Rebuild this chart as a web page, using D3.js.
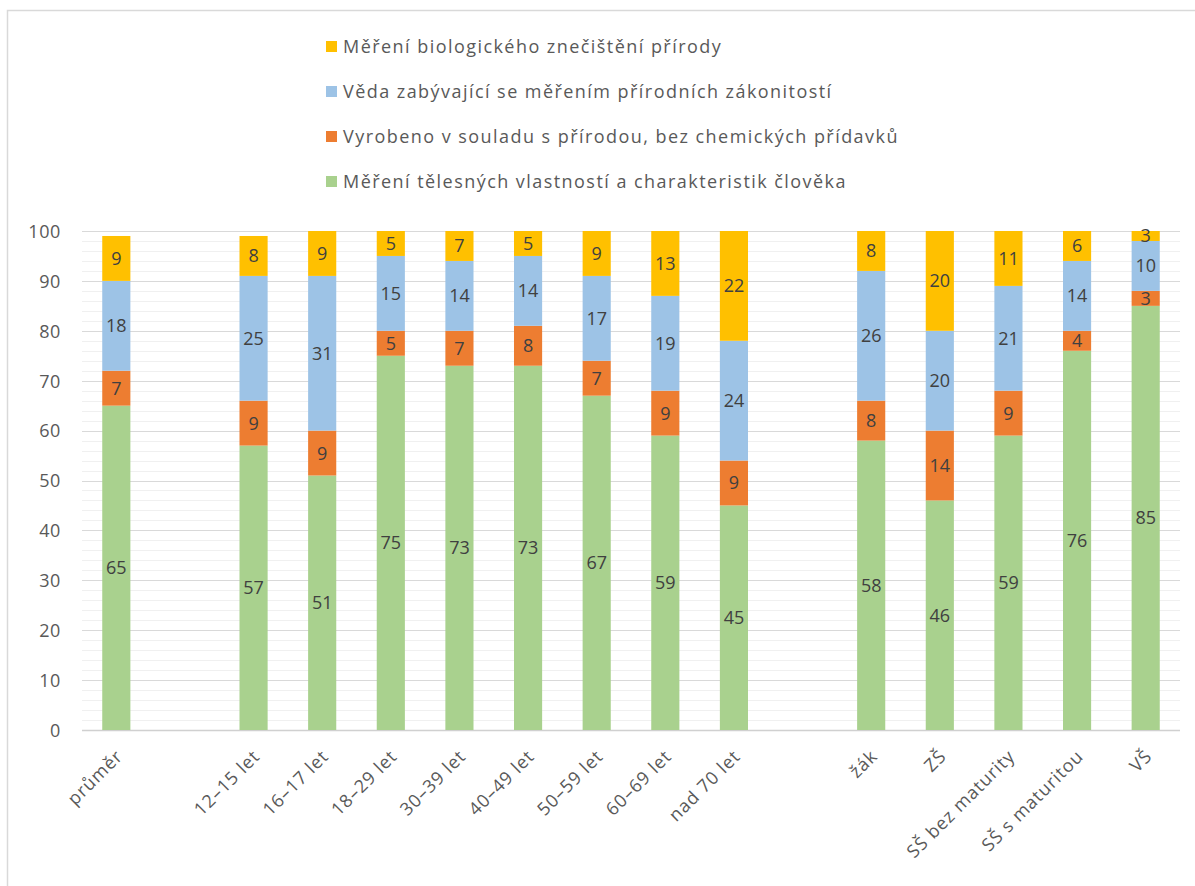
<!DOCTYPE html>
<html>
<head>
<meta charset="utf-8">
<script src="https://cdn.jsdelivr.net/npm/d3@7"></script>
<style>
  html, body { margin: 0; padding: 0; background: #fff; }
  svg { display: block; }
  text { font-family: "Open Sans", "Noto Sans", sans-serif; }
</style>
</head>
<body>
<svg id="chart" width="1195" height="886"></svg>
<script>
// Categories (empty strings are spacer slots between groups)
const categories = ["průměr", "", "12–15 let", "16–17 let", "18–29 let", "30–39 let", "40–49 let",
  "50–59 let", "60–69 let", "nad 70 let", "", "žák", "ZŠ", "SŠ bez maturity", "SŠ s maturitou", "VŠ"];

// Series, bottom to top of each stack
const seriesNames = [
  "Měření tělesných vlastností a charakteristik člověka",
  "Vyrobeno v souladu s přírodou, bez chemických přídavků",
  "Věda zabývající se měřením přírodních zákonitostí",
  "Měření biologického znečištění přírody"
];
const bodyValues    = [65, null, 57, 51, 75, 73, 73, 67, 59, 45, null, 58, 46, 59, 76, 85];
const natureValues  = [7, null, 9, 9, 5, 7, 8, 7, 9, 9, null, 8, 14, 9, 4, 3];
const scienceValues = [18, null, 25, 31, 15, 14, 14, 17, 19, 24, null, 26, 20, 21, 14, 10];
const pollutionValues = [9, null, 8, 9, 5, 7, 5, 9, 13, 22, null, 8, 20, 11, 6, 3];

const yTicks = [0, 10, 20, 30, 40, 50, 60, 70, 80, 90, 100];
const colors = ["#A9D18E", "#ED7D31", "#9DC3E6", "#FFC000"];

const seriesValues = [bodyValues, natureValues, scienceValues, pollutionValues];

const svg = d3.select("#chart");

// chart frame
svg.append("rect")
  .attr("x", 7.5).attr("y", 10.5)
  .attr("width", 1300).attr("height", 1000)
  .attr("fill", "none").attr("stroke", "#d9d9d9").attr("stroke-width", 1.5);

const plot = { left: 82, right: 1180, top: 231, bottom: 730 };

const x = d3.scaleBand()
  .domain(d3.range(categories.length))
  .range([plot.left, plot.right])
  .paddingInner(0.59).paddingOuter(0.295);

const y = d3.scaleLinear().domain([0, 100]).range([plot.bottom, plot.top]);

// minor gridlines
svg.append("g").selectAll("line")
  .data(d3.range(2, 100, 2).filter(v => v % 10 !== 0))
  .join("line")
  .attr("x1", plot.left).attr("x2", plot.right)
  .attr("y1", d => Math.round(y(d)) + 0.5).attr("y2", d => Math.round(y(d)) + 0.5)
  .attr("stroke", "#f0f0f0").attr("stroke-width", 1);

// major gridlines
svg.append("g").selectAll("line")
  .data(yTicks)
  .join("line")
  .attr("x1", plot.left).attr("x2", plot.right)
  .attr("y1", d => Math.round(y(d)) + 0.5).attr("y2", d => Math.round(y(d)) + 0.5)
  .attr("stroke", d => d === 0 ? "#d0d0d0" : "#d9d9d9").attr("stroke-width", d => d === 0 ? 1.5 : 1);

// y axis labels
const yAxis = d3.axisLeft(y).tickValues(yTicks).tickSize(0).tickPadding(0);
const yg = svg.append("g").attr("transform", `translate(${plot.left - 21},0)`).call(yAxis);
yg.select(".domain").remove();
yg.selectAll("text")
  .attr("fill", "#595959")
  .style("font-size", "18px")
  .style("letter-spacing", "0.6px")
  .attr("dy", "0.35em");

// stacked data
const rows = categories.map((c, i) => {
  const r = { idx: i, cat: c };
  seriesValues.forEach((vals, s) => { r["s" + s] = vals[i] == null ? 0 : vals[i]; });
  return r;
});
const stack = d3.stack().keys(seriesValues.map((_, s) => "s" + s));
const stacked = stack(rows);

svg.append("defs").append("clipPath").attr("id", "plotclip")
  .append("rect").attr("x", plot.left).attr("y", plot.top)
  .attr("width", plot.right - plot.left).attr("height", plot.bottom - plot.top);

const barsG = svg.append("g").attr("clip-path", "url(#plotclip)");
stacked.forEach((layer, s) => {
  barsG.append("g").selectAll("rect")
    .data(layer.filter(d => categories[d.data.idx] !== ""))
    .join("rect")
    .attr("x", d => x(d.data.idx))
    .attr("width", x.bandwidth())
    .attr("y", d => y(Math.min(d[1], 100)))
    .attr("height", d => y(d[0]) - y(Math.min(d[1], 100)))
    .attr("fill", colors[s]);
});

// value labels
stacked.forEach((layer, s) => {
  svg.append("g").selectAll("text")
    .data(layer.filter(d => categories[d.data.idx] !== ""))
    .join("text")
    .attr("x", d => x(d.data.idx) + x.bandwidth() / 2)
    .attr("y", d => y((d[0] + Math.min(d[1], 100)) / 2))
    .attr("dy", "0.36em")
    .attr("text-anchor", "middle")
    .attr("fill", "#404040")
    .style("font-size", "18px")
    .text(d => d.data["s" + s]);
});

// category labels
svg.append("g").selectAll("text")
  .data(categories.map((c, i) => ({ c, i })).filter(d => d.c !== ""))
  .join("text")
  .attr("transform", d => `translate(${x(d.i) + x.bandwidth() / 2 + 3},${plot.bottom + 23}) rotate(-45)`)
  .attr("text-anchor", "end")
  .attr("dy", "0.35em")
  .attr("fill", "#595959")
  .style("font-size", "18px")
  .style("letter-spacing", "0.9px")
  .text(d => d.c);

// legend (top entry is the top series)
const legendOrder = [3, 2, 1, 0];
const legend = svg.append("g");
legendOrder.forEach((s, k) => {
  const cy = 47 + k * 45;
  legend.append("rect")
    .attr("x", 326).attr("y", cy - 6).attr("width", 11).attr("height", 11)
    .attr("fill", colors[s]);
  legend.append("text")
    .attr("x", 343).attr("y", cy).attr("dy", "0.35em")
    .attr("fill", "#595959")
    .style("font-size", "18px")
    .style("letter-spacing", "1.45px")
    .text(seriesNames[s]);
});
</script>
</body>
</html>
